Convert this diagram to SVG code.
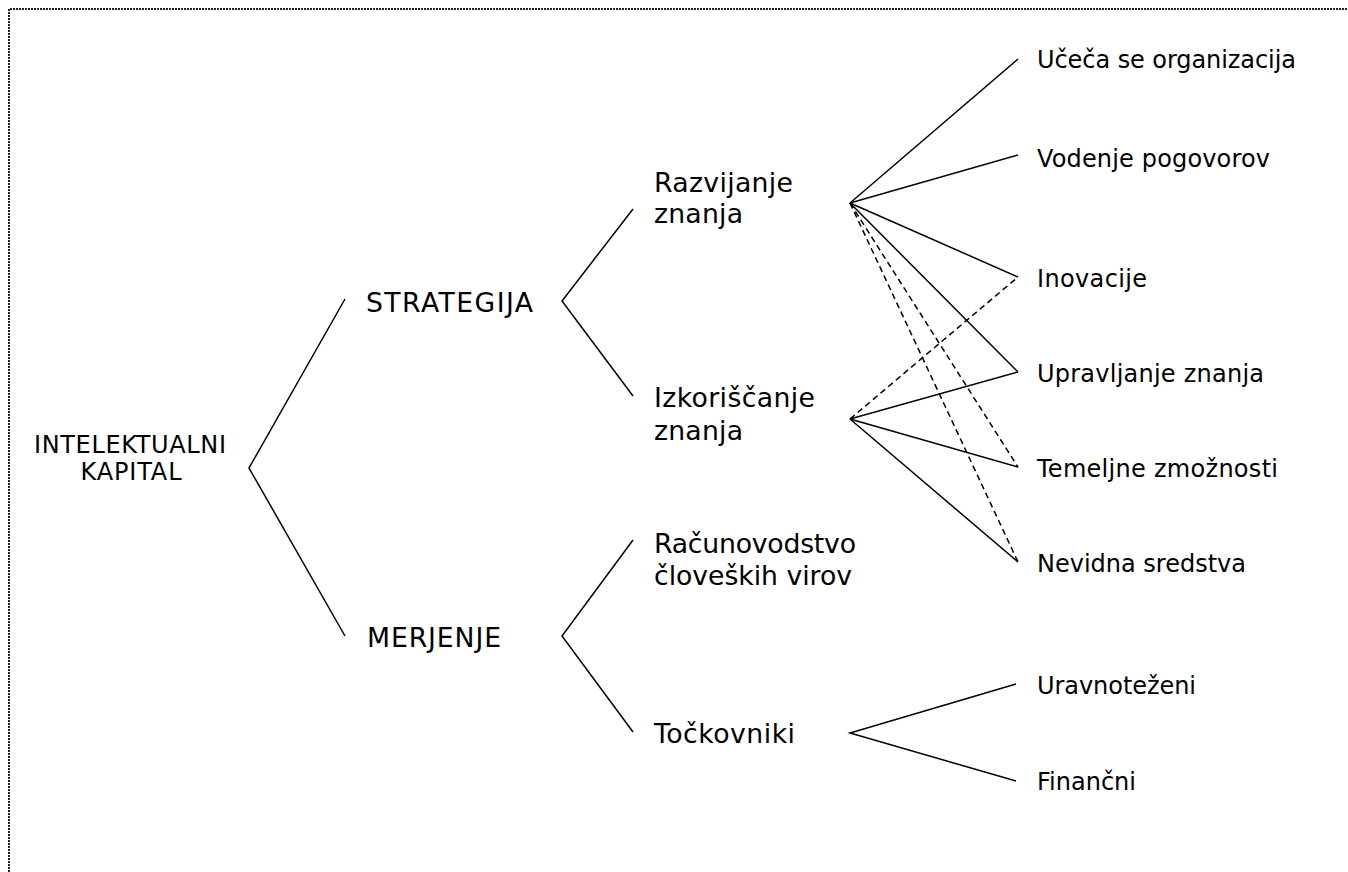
<svg xmlns="http://www.w3.org/2000/svg" width="1348" height="872" viewBox="0 0 1348 872">
  <style>
    text { font-family: "DejaVu Sans", Verdana, sans-serif; fill: #000; }
    .l1 { font-size: 24px; }
    .l2 { font-size: 26.7px; }
    .l3 { font-size: 24px; }
    .solid { stroke: #000; stroke-width: 1.5; fill: none; }
    .dash { stroke: #000; stroke-width: 1.5; fill: none; stroke-dasharray: 6 4; }
    .frame { stroke: #222; stroke-width: 2; fill: none; stroke-dasharray: 2 1; }
  </style>
  <rect width="1348" height="872" fill="#fff"/>
  <!-- dotted page frame (top and left edges visible) -->
  <path class="frame" d="M9 872 V9 H1348"/>

  <!-- connectors -->
  <g id="connectors">
    <polyline class="solid" points="345,299 249,468 345,636"/>
    <polyline class="solid" points="633,209 562,301 633,396"/>
    <polyline class="solid" points="633,540 562,636 633,732"/>
    <!-- from Razvijanje znanja -->
    <line class="solid" x1="850" y1="203" x2="1018" y2="59"/>
    <line class="solid" x1="850" y1="203" x2="1018" y2="155"/>
    <line class="solid" x1="850" y1="203" x2="1018" y2="277"/>
    <line class="solid" x1="850" y1="203" x2="1018" y2="372"/>
    <line class="dash" x1="850" y1="203" x2="1018" y2="467"/>
    <line class="dash" x1="850" y1="203" x2="1018" y2="562"/>
    <!-- from Izkoriščanje znanja -->
    <line class="dash" x1="850" y1="419" x2="1018" y2="277"/>
    <line class="solid" x1="850" y1="419" x2="1018" y2="372"/>
    <line class="solid" x1="850" y1="419" x2="1018" y2="467"/>
    <line class="solid" x1="850" y1="419" x2="1018" y2="562"/>
    <!-- from Točkovniki -->
    <polyline class="solid" points="1016,684 850,733 1016,781"/>
  </g>

  <g id="intelektualni-kapital">
    <text class="l1" x="130" y="453" text-anchor="middle" textLength="192" lengthAdjust="spacing">INTELEKTUALNI</text>
    <text class="l1" x="131" y="480" text-anchor="middle" textLength="101" lengthAdjust="spacing">KAPITAL</text>
  </g>
  <g id="strategija"><text class="l2" x="366" y="312" textLength="167" lengthAdjust="spacing">STRATEGIJA</text></g>
  <g id="merjenje"><text class="l2" x="367" y="647" textLength="134" lengthAdjust="spacing">MERJENJE</text></g>
  <g id="razvijanje-znanja">
    <text class="l2" x="654" y="192" textLength="139" lengthAdjust="spacing">Razvijanje</text>
    <text class="l2" x="654" y="223" textLength="89" lengthAdjust="spacing">znanja</text>
  </g>
  <g id="izkoriscanje-znanja">
    <text class="l2" x="654" y="407" textLength="161" lengthAdjust="spacing">Izkoriščanje</text>
    <text class="l2" x="654" y="440" textLength="89" lengthAdjust="spacing">znanja</text>
  </g>
  <g id="racunovodstvo">
    <text class="l2" x="654" y="553" textLength="202" lengthAdjust="spacing">Računovodstvo</text>
    <text class="l2" x="654" y="585" textLength="198" lengthAdjust="spacing">človeških virov</text>
  </g>
  <g id="tockovniki"><text class="l2" x="654" y="743" textLength="141" lengthAdjust="spacing">Točkovniki</text></g>

  <g id="uceca-se-organizacija"><text class="l3" x="1037" y="68" textLength="259" lengthAdjust="spacing">Učeča se organizacija</text></g>
  <g id="vodenje-pogovorov"><text class="l3" x="1037" y="167" textLength="233" lengthAdjust="spacing">Vodenje pogovorov</text></g>
  <g id="inovacije"><text class="l3" x="1037" y="287" textLength="110" lengthAdjust="spacing">Inovacije</text></g>
  <g id="upravljanje-znanja"><text class="l3" x="1037" y="382" textLength="227" lengthAdjust="spacing">Upravljanje znanja</text></g>
  <g id="temeljne-zmoznosti"><text class="l3" x="1037" y="477" textLength="241" lengthAdjust="spacing">Temeljne zmožnosti</text></g>
  <g id="nevidna-sredstva"><text class="l3" x="1037" y="572" textLength="209" lengthAdjust="spacing">Nevidna sredstva</text></g>
  <g id="uravnotezeni"><text class="l3" x="1037" y="694" textLength="159" lengthAdjust="spacing">Uravnoteženi</text></g>
  <g id="financni"><text class="l3" x="1037" y="790" textLength="99" lengthAdjust="spacing">Finančni</text></g>
</svg>
